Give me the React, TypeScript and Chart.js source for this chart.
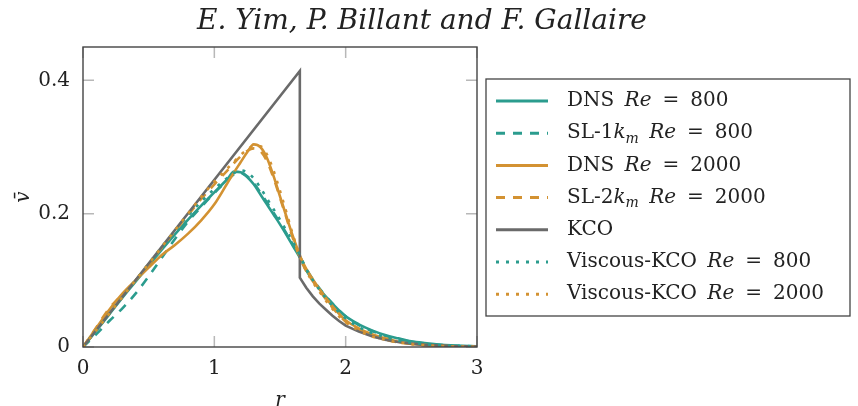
import React, { useEffect, useRef } from "react";
import { Chart, registerables } from "chart.js";

Chart.register(...registerables);

// ---------- data ----------
const rGrid = [0, 0.1, 0.2, 0.3, 0.4, 0.5, 0.6, 0.7, 0.8, 0.9, 1.0, 1.1, 1.15, 1.2, 1.25, 1.3, 1.35, 1.4, 1.45, 1.5, 1.55, 1.6, 1.66, 1.7, 1.8, 1.9, 2.0, 2.1, 2.2, 2.3, 2.4, 2.5, 2.6, 2.8, 3.0];

const dns800 = [0, 0.024, 0.049, 0.074, 0.098, 0.122, 0.146, 0.169, 0.191, 0.212, 0.232, 0.252, 0.263, 0.262, 0.255, 0.244, 0.229, 0.214, 0.199, 0.184, 0.168, 0.151, 0.131, 0.115, 0.087, 0.065, 0.046, 0.034, 0.025, 0.018, 0.013, 0.0085, 0.006, 0.0025, 0.001];
const sl800 = [0, 0.019, 0.039, 0.058, 0.080, 0.106, 0.134, 0.162, 0.188, 0.210, 0.231, 0.250, 0.259, 0.261, 0.256, 0.246, 0.232, 0.217, 0.202, 0.186, 0.170, 0.153, 0.132, 0.117, 0.088, 0.065, 0.046, 0.033, 0.024, 0.017, 0.012, 0.008, 0.0055, 0.0023, 0.0009];
const dns2000 = [0, 0.028, 0.056, 0.080, 0.100, 0.119, 0.138, 0.153, 0.170, 0.190, 0.214, 0.246, 0.262, 0.277, 0.292, 0.304, 0.300, 0.284, 0.257, 0.226, 0.195, 0.165, 0.133, 0.117, 0.087, 0.061, 0.040, 0.028, 0.019, 0.013, 0.008, 0.005, 0.003, 0.0012, 0.0004];
const sl2000 = [0, 0.029, 0.058, 0.079, 0.100, 0.124, 0.149, 0.174, 0.198, 0.222, 0.244, 0.265, 0.276, 0.286, 0.294, 0.298, 0.294, 0.279, 0.254, 0.224, 0.193, 0.162, 0.130, 0.114, 0.085, 0.059, 0.038, 0.026, 0.017, 0.011, 0.007, 0.0045, 0.0028, 0.001, 0.0003];
const visc800 = [0, 0.025, 0.050, 0.075, 0.100, 0.125, 0.150, 0.174, 0.197, 0.218, 0.237, 0.254, 0.261, 0.265, 0.262, 0.253, 0.239, 0.223, 0.207, 0.191, 0.174, 0.157, 0.134, 0.117, 0.086, 0.062, 0.043, 0.030, 0.021, 0.015, 0.010, 0.0065, 0.0042, 0.0017, 0.0006];
const visc2000 = [0, 0.025, 0.050, 0.075, 0.100, 0.125, 0.150, 0.175, 0.200, 0.225, 0.248, 0.268, 0.278, 0.288, 0.296, 0.301, 0.301, 0.289, 0.265, 0.234, 0.201, 0.167, 0.132, 0.114, 0.083, 0.057, 0.037, 0.025, 0.016, 0.011, 0.007, 0.0042, 0.0026, 0.0009, 0.0003];

const kcoR = [0, 1.651, 1.651, 1.7, 1.75, 1.8, 1.85, 1.9, 1.95, 2.0, 2.1, 2.2, 2.3, 2.4, 2.5, 2.6, 2.8, 3.0];
const kcoV = [0, 0.414, 0.104, 0.089, 0.076, 0.065, 0.056, 0.047, 0.039, 0.032, 0.023, 0.016, 0.011, 0.0075, 0.005, 0.0032, 0.0013, 0.0005];

const xTicks = [0, 1, 2, 3];
const xTickLabels = ["0", "1", "2", "3"];
const yTicks = [0, 0.2, 0.4];
const yTickLabels = ["0", "0.2", "0.4"];

const seriesLabels = [
  "DNS $Re$ = 800",
  "SL-1$k_m$ $Re$ = 800",
  "DNS $Re$ = 2000",
  "SL-2$k_m$ $Re$ = 2000",
  "KCO",
  "Viscous-KCO $Re$ = 800",
  "Viscous-KCO $Re$ = 2000",
];
const titleText = "E. Yim, P. Billant and F. Gallaire";
const xAxisTitle = "r";
const yAxisTitle = "v\u0304";

// ---------- style ----------
const TEAL = "#2b9c8e";
const ORANGE = "#d39232";
const GRAY = "#6a6a6a";
const FONT = "DejaVu Serif";
const TEXT = "#222222";
const DASH = [9, 8];
const DOT = [3, 7];

type Tok = { text: string; italic: boolean; sub: boolean; pad?: number };

function tokenize(label: string): Tok[] {
  const toks: Tok[] = [];
  let italic = false;
  let i = 0;
  let buf = "";
  const flush = () => {
    if (buf) {
      const parts = buf.split(" = ");
      parts.forEach((p, k) => {
        if (p) toks.push({ text: p.replace(/ /g, "  ").replace(/  /g, " \u2009"), italic, sub: false });
        if (k < parts.length - 1) toks.push({ text: "=", italic: false, sub: false, pad: 11 });
      });
    }
    buf = "";
  };
  while (i < label.length) {
    const c = label[i];
    if (c === "$") {
      flush();
      italic = !italic;
      i++;
      continue;
    }
    if (italic && c === "_") {
      flush();
      toks.push({ text: label[i + 1], italic: true, sub: true });
      i += 2;
      continue;
    }
    buf += c;
    i++;
  }
  flush();
  return toks;
}

const decorPlugin = {
  id: "decor",
  beforeDatasetsDraw(chart: any) {
    const { ctx, chartArea: a, scales } = chart;
    const xs = scales.x;
    const ys = scales.y;
    ctx.save();
    ctx.strokeStyle = "#b8b8b8";
    ctx.lineWidth = 1.5;
    ctx.beginPath();
    xTicks.forEach((v) => {
      const p = xs.getPixelForValue(v);
      ctx.moveTo(p, a.bottom);
      ctx.lineTo(p, a.bottom - 11);
      ctx.moveTo(p, a.top);
      ctx.lineTo(p, a.top + 11);
    });
    yTicks.forEach((v) => {
      const p = ys.getPixelForValue(v);
      ctx.moveTo(a.left, p);
      ctx.lineTo(a.left + 11, p);
      ctx.moveTo(a.right, p);
      ctx.lineTo(a.right - 11, p);
    });
    ctx.stroke();
    ctx.restore();
  },
  afterDraw(chart: any) {
    const { ctx, chartArea: a } = chart;
    ctx.save();
    // frame
    ctx.strokeStyle = "#444444";
    ctx.lineWidth = 1.4;
    ctx.strokeRect(a.left, a.top, a.right - a.left, a.bottom - a.top);

    // title
    ctx.fillStyle = TEXT;
    ctx.font = `italic 28px "${FONT}"`;
    ctx.textAlign = "center";
    ctx.textBaseline = "alphabetic";
    ctx.fillText(titleText, 422, 29);

    // legend
    const bx = 486, by = 79, bw = 364, bh = 237;
    ctx.fillStyle = "#ffffff";
    ctx.fillRect(bx, by, bw, bh);
    ctx.strokeStyle = "#444444";
    ctx.lineWidth = 1.3;
    ctx.strokeRect(bx, by, bw, bh);
    const ds = chart.data.datasets;
    ds.forEach((d: any, i: number) => {
      const y = by + 22 + i * 32.2;
      ctx.save();
      ctx.strokeStyle = d.borderColor;
      ctx.lineWidth = 3;
      ctx.lineCap = "butt";
      ctx.setLineDash(d.borderDash || []);
      ctx.beginPath();
      ctx.moveTo(496, y);
      ctx.lineTo(548, y);
      ctx.stroke();
      ctx.restore();
      let x = 567;
      ctx.textAlign = "left";
      ctx.textBaseline = "middle";
      ctx.fillStyle = TEXT;
      tokenize(seriesLabels[i]).forEach((t) => {
        const size = t.sub ? 14 : 20;
        ctx.font = `${t.italic ? "italic " : ""}${size}px "${FONT}"`;
        const pad = t.pad || 0;
        x += pad;
        ctx.fillText(t.text, x, t.sub ? y + 6 : y);
        x += ctx.measureText(t.text).width + pad;
      });
    });
    ctx.restore();
  },
};

function mk(r: number[], v: number[]) {
  return r.map((x, i) => ({ x, y: v[i] }));
}

export default function App() {
  const ref = useRef<HTMLCanvasElement | null>(null);
  useEffect(() => {
    if (!ref.current) return;
    Chart.defaults.font.family = FONT;
    const common = { pointRadius: 0, borderWidth: 2.6, fill: false, cubicInterpolationMode: "monotone" as const };
    const chart = new Chart(ref.current, {
      type: "line",
      data: {
        datasets: [
          { ...common, label: seriesLabels[0], data: mk(rGrid, dns800), borderColor: TEAL, order: 10 },
          { ...common, label: seriesLabels[1], data: mk(rGrid, sl800), borderColor: TEAL, borderDash: DASH, order: 9 },
          { ...common, label: seriesLabels[2], data: mk(rGrid, dns2000), borderColor: ORANGE, order: 8 },
          { ...common, label: seriesLabels[3], data: mk(rGrid, sl2000), borderColor: ORANGE, borderDash: DASH, order: 7 },
          { pointRadius: 0, borderWidth: 2.6, fill: false, tension: 0, label: seriesLabels[4], data: mk(kcoR, kcoV), borderColor: GRAY, order: 6 },
          { ...common, label: seriesLabels[5], data: mk(rGrid, visc800), borderColor: TEAL, borderDash: DOT, order: 5 },
          { ...common, label: seriesLabels[6], data: mk(rGrid, visc2000), borderColor: ORANGE, borderDash: DOT, order: 4 },
        ],
      },
      options: {
        responsive: false,
        animation: false,
        devicePixelRatio: 1,
        layout: { padding: { left: 0, top: 47, right: 381, bottom: 0 } },
        plugins: { legend: { display: false }, tooltip: { enabled: false }, title: { display: false } },
        scales: {
          x: {
            type: "linear",
            min: 0,
            max: 3,
            grid: { display: false },
            border: { display: false },
            afterBuildTicks: (s: any) => { s.ticks = xTicks.map((v) => ({ value: v })); },
            afterFit: (s: any) => { s.height = 59; },
            ticks: {
              padding: 2,
              color: TEXT,
              font: { size: 20, family: FONT },
              maxRotation: 0,
              callback: (v: any) => { const k = xTicks.indexOf(Number(v)); return k >= 0 ? xTickLabels[k] : ""; },
            },
            title: { display: true, text: xAxisTitle, color: TEXT, font: { size: 20, style: "italic", family: FONT, lineHeight: 0.5 }, padding: { top: 0, bottom: 0 } },
          },
          y: {
            type: "linear",
            min: 0,
            max: 0.45,
            grid: { display: false },
            border: { display: false },
            afterBuildTicks: (s: any) => { s.ticks = yTicks.map((v) => ({ value: v })); },
            afterFit: (s: any) => { s.width = 83; },
            ticks: {
              padding: 5,
              color: TEXT,
              font: { size: 20, family: FONT },
              callback: (v: any) => { const k = yTicks.findIndex((t) => Math.abs(t - Number(v)) < 1e-9); return k >= 0 ? yTickLabels[k] : ""; },
            },
            title: { display: true, text: yAxisTitle, color: TEXT, font: { size: 20, style: "italic", family: FONT, lineHeight: 1 }, padding: { top: 14, bottom: 0 } },
          },
        },
      },
      plugins: [decorPlugin],
    });
    return () => chart.destroy();
  }, []);
  return (
    <div style={{ position: "absolute", left: 0, top: 0, width: 858, height: 406, background: "#fff" }}>
      <canvas ref={ref} width={858} height={406} style={{ display: "block" }} />
    </div>
  );
}
